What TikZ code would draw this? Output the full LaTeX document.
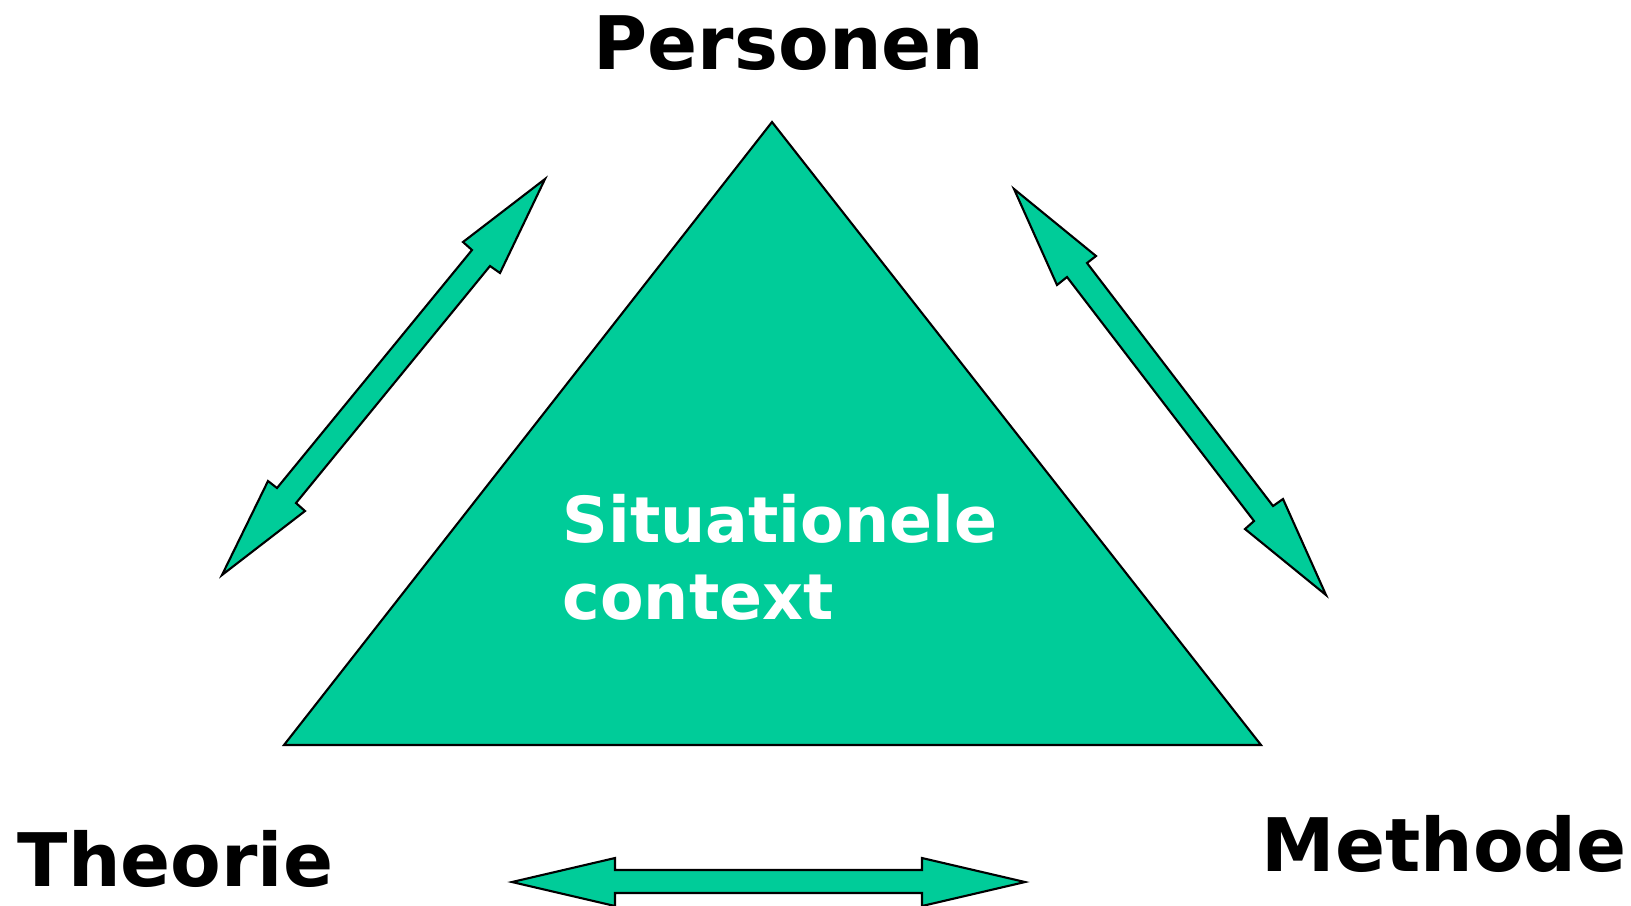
\documentclass[tikz,border=0pt]{standalone}
\usepackage{fontspec}
\setmainfont{DejaVu Sans}
\definecolor{tealgreen}{RGB}{0,204,153}
\begin{document}
\begin{tikzpicture}[x=0.01cm,y=-0.01cm,
  shape3/.style={draw=black,fill=tealgreen,line width=0.6pt,line join=miter},
  label/.style={inner sep=0pt,anchor=base west,font=\bfseries\fontsize{21}{25}\selectfont},
  inlabel/.style={inner sep=0pt,anchor=base west,text=white,font=\bfseries\fontsize{18.05}{21.9}\selectfont}]
\useasboundingbox (0,0) rectangle (1631,905);
% triangle
\draw[shape3] (772,122) -- (1261,745) -- (284,745) -- cycle;
% left diagonal double arrow
\draw[shape3] (545,179) -- (500,273) -- (490,266) -- (296,503) -- (305,511)
  -- (222,575) -- (268,481) -- (277,488) -- (472,250) -- (463,242) -- cycle;
% right diagonal double arrow
\draw[shape3] (1014,189) -- (1096,256) -- (1087,263) -- (1273,506) -- (1283,499)
  -- (1326,595) -- (1245,529) -- (1254,521) -- (1067,277) -- (1057,285) -- cycle;
% bottom horizontal double arrow
\draw[shape3] (512,882) -- (615,858) -- (615,870) -- (922,870) -- (922,858)
  -- (1025,882) -- (922,906) -- (922,893) -- (615,893) -- (615,906) -- cycle;
% labels
\node[label] (pers) at (593,69) {Personen};
\node[label] (theo) at (17,886) {Theorie};
\node[label] (meth) at (1261,871) {Methode};
\node[inlabel] (ctx1) at (562,542) {Situationele};
\node[inlabel] (ctx2) at (562,619) {context};
\end{tikzpicture}
\end{document}
